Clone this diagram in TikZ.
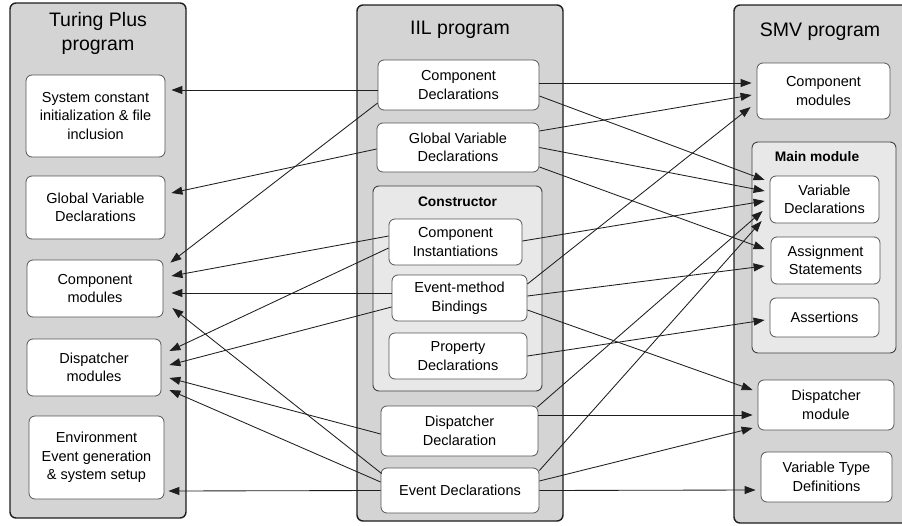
\documentclass[tikz,border=0pt]{standalone}
\usepackage{fontspec}
\setmainfont{Liberation Sans}
\usetikzlibrary{calc,arrows.meta}
\definecolor{panelgray}{RGB}{212,212,212}
\definecolor{innergray}{RGB}{232,232,232}
\definecolor{ink}{RGB}{30,30,30}
\begin{document}
\begin{tikzpicture}[x=1pt,y=-1pt,
  panel/.style={draw=ink, line width=1.4pt, fill=panelgray, rounded corners=6pt, inner sep=0pt},
  innerpanel/.style={draw=ink!85, line width=0.9pt, fill=innergray, rounded corners=6pt, inner sep=0pt},
  box/.style={draw=ink!75, line width=0.8pt, fill=white, rounded corners=6pt, align=center,
    font=\fontsize{14.5}{18.5}\selectfont, inner sep=0pt},
  title/.style={align=center, font=\fontsize{19.5}{24}\selectfont, inner sep=0pt},
  subtitle/.style={font=\bfseries\fontsize{13.8}{16}\selectfont, inner sep=0pt},
  conn/.style={draw=ink, line width=0.85pt, -{Triangle[length=11pt,width=8pt]}}]
\useasboundingbox (0,0) rectangle (902,525);
\clip (0,0) rectangle (902,525);
% panels
\node[panel, minimum width=176pt, minimum height=515pt] (tp) at (98,260.5) {};
\node[panel, minimum width=206pt, minimum height=516pt] (il) at (460,263) {};
\node[panel, minimum width=190pt, minimum height=518pt] (sm) at (829,264) {};
\node[innerpanel, minimum width=169pt, minimum height=205pt] (ctor) at (457.5,288.5) {};
\node[innerpanel, minimum width=144pt, minimum height=211pt] (mainm) at (824,247.5) {};
% titles
\node[title] (tpt) at (98,33) {Turing Plus\\program};
\node[title] (ilt) at (460,30) {IIL program};
\node[title] (smt) at (820,32) {SMV program};
\node[subtitle] (ctort) at (457.5,202) {Constructor};
\node[subtitle] (maint) at (817,157) {Main module};
% Turing Plus boxes
\node[box, minimum width=139pt, minimum height=82pt] (tpsys) at (95.5,116) {System constant\\initialization \& file\\inclusion};
\node[box, minimum width=139pt, minimum height=63pt] (tpgv) at (95.5,207.5) {Global Variable\\Declarations};
\node[box, minimum width=136pt, minimum height=57pt] (tpcm) at (95,288.5) {Component\\modules};
\node[box, minimum width=134pt, minimum height=57pt] (tpdm) at (94,367.5) {Dispatcher\\modules};
\node[box, minimum width=135pt, minimum height=83pt] (tpenv) at (96.5,457.5) {Environment\\Event generation\\\& system setup};
% IIL boxes
\node[box, minimum width=161pt, minimum height=50pt] (ilcd) at (458.5,85) {Component\\Declarations};
\node[box, minimum width=162pt, minimum height=49pt] (ilgv) at (458,147.5) {Global Variable\\Declarations};
\node[box, minimum width=133pt, minimum height=46pt] (ilci) at (455.5,242) {Component\\Instantiations};
\node[box, minimum width=135pt, minimum height=46pt] (ilem) at (459.5,298) {Event-method\\Bindings};
\node[box, minimum width=138pt, minimum height=46pt] (ilpd) at (458,356) {Property\\Declarations};
\node[box, minimum width=157pt, minimum height=50pt] (ildd) at (459.5,431) {Dispatcher\\Declaration};
\node[box, minimum width=158pt, minimum height=45pt] (iled) at (460,490.5) {Event Declarations};
% SMV boxes
\node[box, minimum width=133pt, minimum height=56pt] (smcm) at (823.5,91) {Component\\modules};
\node[box, minimum width=109pt, minimum height=47pt] (smvd) at (824.5,199.5) {Variable\\Declarations};
\node[box, minimum width=109pt, minimum height=47pt] (smas) at (825.5,260.5) {Assignment\\Statements};
\node[box, minimum width=109pt, minimum height=39pt] (smat) at (824.5,317.5) {Assertions};
\node[box, minimum width=136pt, minimum height=50pt] (smdm) at (826,405) {Dispatcher\\module};
\node[box, minimum width=131pt, minimum height=50pt] (smvt) at (826.5,477) {Variable Type\\Definitions};
% connectors to Turing Plus
\draw[conn] ($(ilcd.west)+(0,5)$) -- ($(tpsys.east)+(6,-26)$);
\draw[conn] ($(ilcd.west)+(0,18)$) -- ($(tpcm.north east)+(7,3)$);
\draw[conn] ($(ilgv.west)+(0,1.5)$) -- ($(tpgv.east)+(6,-14.5)$);
\draw[conn] ($(ilci.west)+(0,-6)$) -- ($(tpcm.east)+(8,-12.5)$);
\draw[conn] ($(ilci.west)+(0,6)$) -- ($(tpdm.east)+(8,-16.5)$);
\draw[conn] ($(ilem.west)+(0,-5)$) -- ($(tpcm.east)+(8,4.5)$);
\draw[conn] ($(ilem.west)+(0,9)$) -- ($(tpdm.east)+(8,-2.5)$);
\draw[conn] ($(ildd.west)+(0,3)$) -- ($(tpdm.east)+(8,10.5)$);
\draw[conn] ($(iled.west)+(1,-17)$) -- ($(tpcm.east)+(9,19.5)$);
\draw[conn] ($(iled.west)+(0,-8.5)$) -- ($(tpdm.east)+(8,22.5)$);
\draw[conn] (iled.west) -- ($(tpenv.east)+(4,33.5)$);
% connectors to SMV
\draw[conn] ($(ilcd.east)+(0,-2)$) -- ($(smcm.west)+(-5,-8)$);
\draw[conn] ($(ilcd.east)+(0,11)$) -- ($(smvd.west)+(-5,-19.5)$);
\draw[conn] ($(ilgv.east)+(0,-16.5)$) -- ($(smcm.west)+(-5,4)$);
\draw[conn] (ilgv.east) -- ($(smvd.west)+(-5,-8.5)$);
\draw[conn] ($(ilgv.east)+(0,19.5)$) -- ($(smas.west)+(-6,-11.5)$);
\draw[conn] ($(ilci.east)+(0,-1)$) -- ($(smvd.west)+(-5,1.5)$);
\draw[conn] ($(ilem.east)+(0,-14)$) -- ($(smcm.west)+(-6,16)$);
\draw[conn] ($(ilem.east)+(0,-2)$) -- ($(smas.west)+(-6,5.5)$);
\draw[conn] ($(ilem.east)+(0,12)$) -- ($(smdm.west)+(-5,-15)$);
\draw[conn] (ilpd.east) -- ($(smat.west)+(-5,2.5)$);
\draw[conn] ($(ildd.east)+(-1,-24)$) -- ($(smvd.west)+(-7,11.5)$);
\draw[conn] ($(ildd.east)+(0,-16)$) -- ($(smdm.west)+(-5,10)$);
\draw[conn] ($(iled.east)+(0,-20)$) -- ($(smvd.west)+(-8,21.5)$);
\draw[conn] ($(iled.east)+(0,-9.5)$) -- ($(smdm.west)+(-5,23)$);
\draw[conn] (iled.east) -- ($(smvt.west)+(-5,13)$);
\end{tikzpicture}
\end{document}
